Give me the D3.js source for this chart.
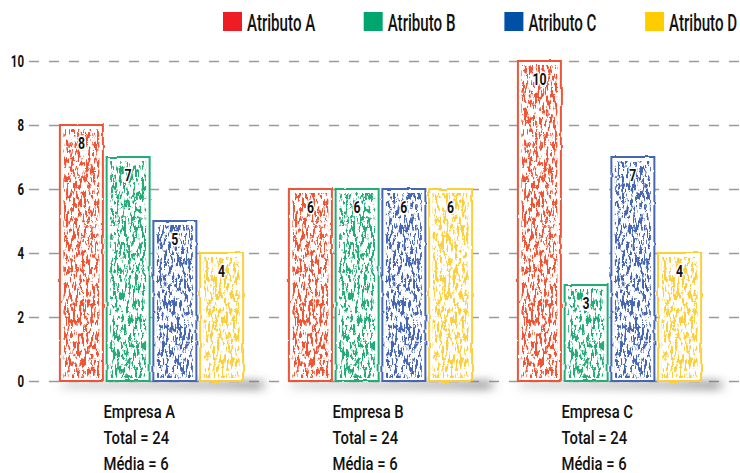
<!DOCTYPE html>
<html>
<head>
<meta charset="utf-8">
<script src="https://cdn.jsdelivr.net/npm/d3@7"></script>
<style>
  html, body { margin: 0; padding: 0; background: #ffffff; }
  svg { display: block; }
  text { font-family: Roboto, 'Noto Sans', sans-serif; }
</style>
</head>
<body>
<svg id="chart" width="740" height="473"></svg>
<script>
// Companies, attributes and the score of each attribute per company
const empresas = ["Empresa A", "Empresa B", "Empresa C"];
const atributos = ["Atributo A", "Atributo B", "Atributo C", "Atributo D"];
const valoresA = [8, 6, 10];
const valoresB = [7, 6, 3];
const valoresC = [5, 6, 7];
const valoresD = [4, 6, 4];
const totais = [24, 24, 24];
const medias = [6, 6, 6];
const yTicks = [0, 2, 4, 6, 8, 10];

const series = [valoresA, valoresB, valoresC, valoresD];
const legendColors = ["#ee1c25", "#00a66e", "#0050a5", "#ffcc00"];
const barColors = ["#ef5535", "#22ad76", "#4566b5", "#fdcf3c"];

// place a text at (x, y) and squeeze it horizontally into a condensed face
function condense(sel, x, y, sx) {
  sel.attr("x", null).attr("y", null)
     .attr("transform", function(d, i) {
       const px = typeof x === "function" ? x.call(this, d, i) : x;
       const py = typeof y === "function" ? y.call(this, d, i) : y;
       return `translate(${px},${py}) scale(${sx},1)`;
     });
  return sel;
}

const svg = d3.select("#chart");
const W = 740;

const y = d3.scaleLinear().domain([0, 10]).range([381, 61]);
const x0 = d3.scaleBand().domain(empresas).range([37, 724]).paddingInner(0.2).paddingOuter(0.1);
const x1 = d3.scaleBand().domain(atributos).range([0, x0.bandwidth()]).paddingInner(0.08);

const defs = svg.append("defs");

// grainy crayon fill: noise thresholded into a mask
const crayon = defs.append("filter").attr("id", "crayon")
  .attr("x", "-10%").attr("y", "-5%").attr("width", "120%").attr("height", "110%");
crayon.append("feTurbulence").attr("type", "fractalNoise")
  .attr("baseFrequency", "0.45 0.12").attr("numOctaves", 3).attr("seed", 7).attr("result", "noise");
crayon.append("feColorMatrix").attr("in", "noise").attr("type", "matrix")
  .attr("values", "0 0 0 0 0  0 0 0 0 0  0 0 0 0 0  14 0 0 0 -7.1").attr("result", "mask");
crayon.append("feComposite").attr("in", "SourceGraphic").attr("in2", "mask")
  .attr("operator", "in").attr("result", "tex");
crayon.append("feTurbulence").attr("type", "fractalNoise")
  .attr("baseFrequency", "0.7").attr("numOctaves", 1).attr("seed", 2).attr("result", "jit");
crayon.append("feDisplacementMap").attr("in", "tex").attr("in2", "jit")
  .attr("scale", 2.5).attr("xChannelSelector", "R").attr("yChannelSelector", "G");

// slightly wobbly outline
const rough = defs.append("filter").attr("id", "rough")
  .attr("x", "-10%").attr("y", "-5%").attr("width", "120%").attr("height", "110%");
rough.append("feTurbulence").attr("type", "fractalNoise")
  .attr("baseFrequency", "0.08").attr("numOctaves", 2).attr("seed", 4).attr("result", "n");
rough.append("feDisplacementMap").attr("in", "SourceGraphic").attr("in2", "n")
  .attr("scale", 2.5).attr("xChannelSelector", "R").attr("yChannelSelector", "G");

// soft floor shadow
const blur = defs.append("filter").attr("id", "shadowBlur")
  .attr("x", "-30%").attr("y", "-200%").attr("width", "160%").attr("height", "500%");
blur.append("feGaussianBlur").attr("stdDeviation", "6 3.5");
const grad = defs.append("linearGradient").attr("id", "shadowGrad");
grad.append("stop").attr("offset", "0%").attr("stop-color", "#888").attr("stop-opacity", 0.2);
grad.append("stop").attr("offset", "75%").attr("stop-color", "#777").attr("stop-opacity", 0.4);
grad.append("stop").attr("offset", "100%").attr("stop-color", "#666").attr("stop-opacity", 0.5);

// gridlines and y tick labels
const axis = d3.axisLeft(y).tickValues(yTicks).tickSizeInner(-(W - 29)).tickSizeOuter(0).tickPadding(5);
const gAxis = svg.append("g").attr("transform", "translate(29,0)").call(axis);
gAxis.select(".domain").remove();
gAxis.selectAll(".tick line")
  .attr("stroke", "#9a9a9a").attr("stroke-width", 1.6).attr("stroke-dasharray", "10 10");
condense(gAxis.selectAll(".tick text"), -5, 0, 0.72)
  .attr("dy", "0.36em")
  .attr("fill", "#111").attr("font-size", 16).attr("font-weight", "bold")
  .style("font-family", "Roboto, 'Noto Sans', sans-serif");

// shadows under each group
svg.append("g").selectAll("rect").data(empresas).join("rect")
  .attr("x", d => x0(d) + 2)
  .attr("y", y(0) - 2)
  .attr("width", x0.bandwidth() + 18)
  .attr("height", 12)
  .attr("fill", "url(#shadowGrad)")
  .attr("filter", "url(#shadowBlur)");

// bars
const groups = svg.append("g").selectAll("g").data(empresas).join("g")
  .attr("transform", d => `translate(${x0(d)},0)`);

groups.each(function(emp, ei) {
  const g = d3.select(this);
  atributos.forEach((attr, si) => {
    const v = series[si][ei];
    const bx = x1(attr), bw = x1.bandwidth();
    const top = y(v), h = y(0) - y(v);
    const col = barColors[si];
    g.append("rect")
      .attr("x", bx).attr("y", top).attr("width", bw).attr("height", h)
      .attr("fill", "#fff").attr("stroke", col).attr("stroke-width", 2)
      .attr("filter", "url(#rough)");
    g.append("rect")
      .attr("x", bx + 3.5).attr("y", top + 4).attr("width", bw - 7).attr("height", h - 7)
      .attr("fill", col).attr("filter", "url(#crayon)");
    condense(g.append("text"), bx + bw / 2, top + 24, 0.72)
      .attr("text-anchor", "middle").attr("font-size", 17).attr("font-weight", "bold")
      .attr("fill", "#111")
      .attr("stroke", "#fff").attr("stroke-width", 3.5).attr("stroke-linejoin", "round")
      .attr("paint-order", "stroke")
      .text(v);
  });
});

// company captions
const cap = svg.append("g").selectAll("g").data(empresas).join("g")
  .attr("transform", d => `translate(${x0(d) + x0.bandwidth() / 2 - 48},0)`);
const capStyle = s => s.attr("font-size", 18.5).attr("font-weight", 500).attr("fill", "#111");
capStyle(condense(cap.append("text"), 0, 418, 0.8)).text(d => d);
capStyle(condense(cap.append("text"), 0, 444, 0.8)).text((d, i) => `Total = ${totais[i]}`);
capStyle(condense(cap.append("text"), 0, 470, 0.8)).text((d, i) => `Média = ${medias[i]}`);

// legend
const leg = svg.append("g").selectAll("g").data(atributos).join("g")
  .attr("transform", (d, i) => `translate(${223 + i * 140.7},12)`);
leg.append("rect").attr("width", 19).attr("height", 19).attr("fill", (d, i) => legendColors[i]);
condense(leg.append("text"), 24, 18.5, 0.63)
  .attr("font-size", 24).attr("font-weight", 500).attr("fill", "#111").text(d => d);
</script>
</body>
</html>
